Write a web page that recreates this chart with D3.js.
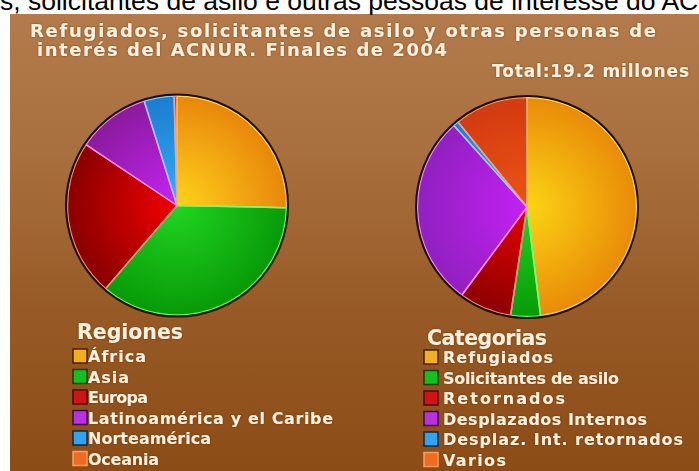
<!DOCTYPE html>
<html><head><meta charset="utf-8">
<script src="https://cdn.jsdelivr.net/npm/d3@7"></script>
<style>
html,body{margin:0;padding:0;background:#fff;overflow:hidden;}
svg{display:block;}
</style></head>
<body>
<script>
const topCaption = "s, solicitantes de asilo e outras pessoas de interesse do ACNUR";
const titleLines = ["Refugiados, solicitantes de asilo y otras personas de", "interés del ACNUR. Finales de 2004"];
const totalLabel = "Total:19.2 millones";

const regionTitle = "Regiones";
const regions = ["África", "Asia", "Europa", "Latinoamérica y el Caribe", "Norteamérica", "Oceania"];
const regionValues = [4.86, 6.90, 4.43, 2.07, 0.85, 0.08];

const categoryTitle = "Categorias";
const categories = ["Refugiados", "Solicitantes de asilo", "Retornados", "Desplazados Internos", "Desplaz. Int. retornados", "Varios"];
const categoryValues = [9.24, 0.84, 1.49, 5.43, 0.15, 2.09];

// colours: [inner, outer, stroke]
const regionColors = [
  ["#ffd21c", "#e8860a", "#ffe066"],
  ["#22d422", "#079a07", "#6cff6c"],
  ["#f20000", "#880000", "#ff8a8a"],
  ["#c424f2", "#8a1a9c", "#ff8aff"],
  ["#36acf8", "#1a7cd0", "#8ad6ff"],
  ["#f06414", "#d03a10", "#ffa070"]
];
const categoryColors = [
  ["#fcd414", "#e88a08", "#ffe066"],
  ["#22d422", "#079a07", "#6cff6c"],
  ["#e80000", "#8c0000", "#ff8a8a"],
  ["#c420f4", "#9020c0", "#ff8aff"],
  ["#36acf8", "#1a7cd0", "#8ad6ff"],
  ["#ec5414", "#d23a10", "#ff9a70"]
];
const legendSwatch = [
  ["#f2b020", "#4a1e00"],
  ["#14c020", "#1a3a00"],
  ["#d01414", "#4a0a00"],
  ["#b830e0", "#3a0a40"],
  ["#30a4f0", "#0a2a40"],
  ["#f06a20", "#f5a060"]
];

const W = 699, H = 471;
const svg = d3.select("body").append("svg").attr("width", W).attr("height", H);
const defs = svg.append("defs");

// background
const bg = defs.append("linearGradient").attr("id", "bg").attr("x1", 0).attr("y1", 0).attr("x2", 0).attr("y2", 1);
bg.append("stop").attr("offset", "0%").attr("stop-color", "#b37b4b");
bg.append("stop").attr("offset", "30%").attr("stop-color", "#a8703e");
bg.append("stop").attr("offset", "65%").attr("stop-color", "#975a26");
bg.append("stop").attr("offset", "100%").attr("stop-color", "#8c4c16");
svg.append("rect").attr("width", W).attr("height", H).attr("fill", "#fff");
svg.append("rect").attr("x", 10).attr("y", 14).attr("width", W - 10).attr("height", H - 14).attr("fill", "url(#bg)");

const glow = defs.append("filter").attr("id", "glow").attr("x", "-10%").attr("y", "-30%").attr("width", "120%").attr("height", "160%");
glow.append("feGaussianBlur").attr("in", "SourceAlpha").attr("stdDeviation", 1.2).attr("result", "b");
glow.append("feFlood").attr("flood-color", "#5a2a00").attr("flood-opacity", 0.6);
glow.append("feComposite").attr("in2", "b").attr("operator", "in").attr("result", "s");
const fm = glow.append("feMerge");
fm.append("feMergeNode").attr("in", "s");
fm.append("feMergeNode").attr("in", "SourceGraphic");

// top caption (cut off at the top and right as in the source)
svg.append("text").attr("x", 0).attr("y", 10)
  .attr("font-family", "Liberation Sans, Arial, sans-serif").attr("font-size", 26.5)
  .attr("fill", "#000").text(topCaption);

const titleFont = "DejaVu Sans, Verdana, sans-serif";
const cream = "#fbf0dc";
svg.append("text").attr("x", 30).attr("y", 36.5).attr("font-family", titleFont).attr("font-weight", "bold")
  .attr("font-size", 18).attr("fill", cream).attr("filter", "url(#glow)")
  .attr("textLength", 626).attr("lengthAdjust", "spacing").text(titleLines[0]);
svg.append("text").attr("x", 37).attr("y", 56).attr("font-family", titleFont).attr("font-weight", "bold")
  .attr("font-size", 18).attr("fill", cream).attr("filter", "url(#glow)")
  .attr("textLength", 410).attr("lengthAdjust", "spacing").text(titleLines[1]);
svg.append("text").attr("x", 492).attr("y", 77).attr("font-family", titleFont).attr("font-weight", "bold")
  .attr("font-size", 17).attr("fill", cream).attr("filter", "url(#glow)")
  .attr("textLength", 197).attr("lengthAdjust", "spacing").text(totalLabel);

function drawPie(id, cx, cy, r, values, colors) {
  const g = svg.append("g").attr("transform", `translate(${cx},${cy})`);
  const pie = d3.pie().sort(null).value(d => d);
  const arc = d3.arc().innerRadius(0).outerRadius(r);
  const arcs = pie(values);
  colors.forEach((c, i) => {
    const gr = defs.append("radialGradient").attr("id", `${id}g${i}`)
      .attr("gradientUnits", "userSpaceOnUse").attr("cx", 0).attr("cy", 0).attr("r", r);
    gr.append("stop").attr("offset", "0%").attr("stop-color", c[0]);
    gr.append("stop").attr("offset", "100%").attr("stop-color", c[1]);
  });
  g.selectAll("path.slice").data(arcs).join("path").attr("class", "slice")
    .attr("d", arc).attr("fill", (d, i) => `url(#${id}g${i})`);
  g.selectAll("path.edge").data(arcs).join("path").attr("class", "edge")
    .attr("d", d3.arc().innerRadius(0).outerRadius(r - 1.5))
    .attr("fill", "none").attr("stroke", (d, i) => colors[i][2]).attr("stroke-width", 1.5)
    .attr("stroke-linejoin", "round").attr("opacity", 0.9);
  g.append("circle").attr("r", r).attr("fill", "none").attr("stroke", "#1e0e02").attr("stroke-width", 2);
}
drawPie("p1", 177, 205.5, 111, regionValues, regionColors);
drawPie("p2", 527, 207, 111, categoryValues, categoryColors);

function drawLegend(title, titleX, titleY, titleLen, items, sqX, textX, y0, lengths) {
  svg.append("text").attr("x", titleX).attr("y", titleY).attr("font-family", titleFont).attr("font-weight", "bold")
    .attr("font-size", 20.5).attr("fill", cream).attr("filter", "url(#glow)")
    .attr("textLength", titleLen).attr("lengthAdjust", "spacing").text(title);
  const y = d3.scalePoint().domain(d3.range(items.length)).range([y0, y0 + 20.5 * (items.length - 1)]);
  const g = svg.append("g");
  const rows = g.selectAll("g").data(items).join("g");
  rows.append("rect").attr("x", sqX).attr("y", (d, i) => y(i) - 7).attr("width", 14).attr("height", 14)
    .attr("fill", (d, i) => legendSwatch[i][0]).attr("stroke", (d, i) => legendSwatch[i][1]).attr("stroke-width", 1.5);
  rows.append("text").attr("x", textX).attr("y", (d, i) => y(i) + 6)
    .attr("font-family", titleFont).attr("font-weight", "bold").attr("font-size", 16)
    .attr("fill", cream).attr("filter", "url(#glow)")
    .attr("textLength", (d, i) => lengths[i]).attr("lengthAdjust", "spacing").text(d => d);
}
drawLegend(regionTitle, 77, 339, 106, regions, 73, 88, 356, [58, 41, 60, 245, 123, 71]);
drawLegend(categoryTitle, 427, 345, 120, categories, 424, 443, 357, [110, 176, 122, 204, 240, 63]);
</script>
</body></html>
